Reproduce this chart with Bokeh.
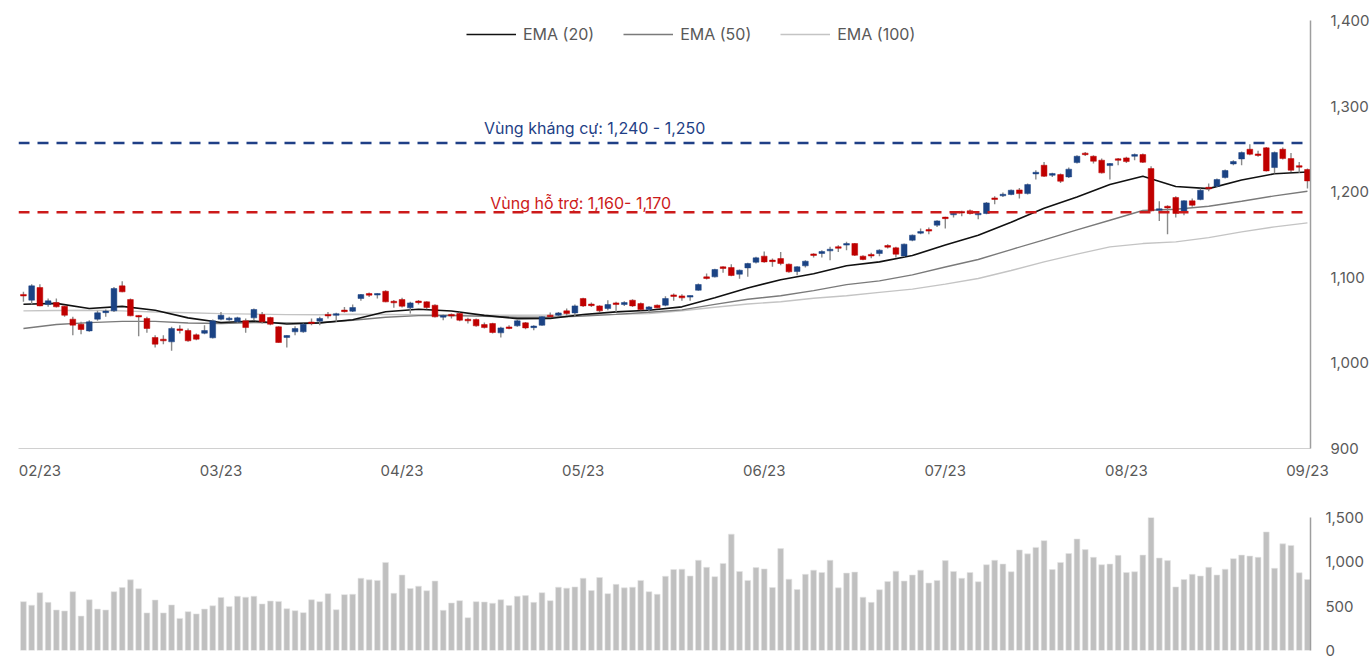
from bokeh.plotting import figure
from bokeh.models import (ColumnDataSource, Range1d, FixedTicker, NumeralTickFormatter,
                          Span, Label, Legend, LegendItem)
from bokeh.layouts import column
from bokeh.embed import file_html
from bokeh.resources import INLINE

FONT = "Inter"
FS = "16px"
AX_FS = "15px"
TXT = "#595959"
BLUE = "#1b4384"
RED = "#c00000"

# ---------------- data ----------------
opens = [1079.5, 1073.3, 1088.1, 1068.2, 1070.5, 1066.3, 1051.1, 1045.2, 1037.4, 1051.1,
         1059.2, 1060.8, 1090.0, 1074.0, 1055.0, 1051.9, 1029.7, 1027.7, 1024.6, 1039.4,
         1037.8, 1032.8, 1034.7, 1029.3, 1051.1, 1050.7, 1048.0, 1049.1, 1052.6, 1056.5,
         1053.0, 1042.1, 1029.7, 1036.3, 1036.3, 1047.2, 1048.7, 1056.1, 1056.1, 1061.2,
         1060.4, 1075.2, 1081.0, 1079.8, 1083.7, 1071.7, 1074.0, 1064.3, 1072.1, 1071.3,
         1067.4, 1053.8, 1056.1, 1057.7, 1050.6, 1050.6, 1044.8, 1046.0, 1035.1, 1041.7,
         1043.3, 1046.8, 1041.7, 1044.0, 1055.7, 1055.7, 1060.8, 1058.4, 1075.2, 1068.6,
         1066.6, 1063.5, 1070.1, 1068.2, 1073.2, 1069.3, 1062.3, 1067.4, 1067.4, 1079.1,
         1078.3, 1077.2, 1084.9, 1100.5, 1100.5, 1112.2, 1111.4, 1103.6, 1111.0, 1117.6,
         1124.7, 1119.6, 1121.9, 1115.3, 1106.8, 1113.4, 1127.0, 1127.8, 1130.9, 1135.2,
         1137.9, 1139.5, 1124.7, 1126.2, 1127.8, 1137.1, 1134.4, 1125.0, 1143.3, 1151.9,
         1155.4, 1160.9, 1169.8, 1173.3, 1176.4, 1177.6, 1173.3, 1174.5, 1192.4, 1195.5,
         1196.7, 1202.1, 1197.8, 1220.8, 1230.9, 1219.2, 1220.0, 1217.3, 1234.0, 1244.9,
         1241.4, 1236.8, 1230.5, 1237.9, 1239.5, 1241.4, 1243.4, 1227.0, 1178.4, 1183.0,
         1193.2, 1176.8, 1189.3, 1190.8, 1204.8, 1206.4, 1216.5, 1232.5, 1238.3, 1249.6,
         1243.8, 1251.2, 1228.2, 1249.6, 1238.7, 1230.1, 1225.9]
highs = [1083.0, 1092.0, 1092.0, 1075.2, 1075.2, 1067.0, 1053.8, 1048.0, 1049.9, 1060.8,
         1062.4, 1088.8, 1095.5, 1075.2, 1055.7, 1053.8, 1032.4, 1032.4, 1042.1, 1044.1,
         1040.2, 1034.3, 1044.1, 1050.7, 1059.6, 1053.8, 1053.8, 1051.9, 1063.5, 1059.6,
         1053.8, 1042.9, 1032.4, 1042.9, 1046.0, 1051.9, 1053.8, 1059.6, 1058.5, 1065.4,
         1068.2, 1080.6, 1082.2, 1081.4, 1084.9, 1073.6, 1076.0, 1071.3, 1073.6, 1072.1,
         1068.6, 1056.5, 1057.7, 1058.8, 1052.6, 1051.8, 1047.1, 1046.8, 1042.1, 1044.0,
         1050.6, 1047.9, 1044.0, 1054.9, 1058.8, 1059.6, 1063.5, 1068.2, 1076.0, 1070.5,
         1067.4, 1073.2, 1071.3, 1072.1, 1074.4, 1070.5, 1066.6, 1068.2, 1078.0, 1081.1,
         1080.3, 1078.7, 1092.7, 1104.4, 1109.9, 1113.0, 1115.3, 1109.1, 1116.9, 1123.9,
         1130.1, 1121.9, 1129.7, 1116.1, 1113.0, 1120.0, 1128.2, 1131.7, 1135.6, 1137.5,
         1141.4, 1140.2, 1125.8, 1128.6, 1132.8, 1138.7, 1135.6, 1139.5, 1149.9, 1157.0,
         1158.1, 1166.7, 1170.6, 1175.3, 1177.6, 1179.2, 1175.3, 1188.1, 1194.7, 1199.0,
         1202.5, 1204.4, 1209.5, 1225.1, 1234.8, 1222.0, 1221.2, 1228.2, 1242.6, 1246.5,
         1242.6, 1238.7, 1233.6, 1239.5, 1240.7, 1244.5, 1244.5, 1229.8, 1188.9, 1184.2,
         1194.7, 1190.0, 1192.0, 1203.7, 1209.5, 1215.4, 1225.9, 1236.8, 1246.9, 1255.4,
         1247.7, 1252.3, 1246.9, 1251.6, 1245.3, 1234.8, 1227.0]
lows = [1071.3, 1068.6, 1066.3, 1065.5, 1064.7, 1053.8, 1032.4, 1033.6, 1036.3, 1049.1,
        1053.8, 1059.6, 1082.6, 1054.6, 1031.2, 1035.1, 1018.0, 1021.9, 1014.1, 1034.3,
        1024.6, 1026.5, 1033.6, 1028.5, 1049.9, 1049.1, 1046.8, 1035.1, 1049.9, 1046.0,
        1044.1, 1023.4, 1018.0, 1032.4, 1035.1, 1044.1, 1044.1, 1051.9, 1048.0, 1058.8,
        1059.6, 1072.5, 1077.1, 1075.2, 1070.9, 1064.3, 1064.7, 1057.7, 1068.2, 1062.7,
        1053.0, 1049.9, 1051.8, 1048.7, 1046.0, 1042.1, 1040.1, 1034.3, 1029.6, 1039.4,
        1042.1, 1039.4, 1038.2, 1043.3, 1053.0, 1054.9, 1054.9, 1054.5, 1065.4, 1065.4,
        1059.6, 1061.5, 1059.6, 1066.6, 1065.4, 1061.5, 1058.8, 1063.5, 1066.3, 1072.5,
        1072.5, 1072.5, 1084.2, 1097.4, 1099.8, 1105.2, 1101.3, 1098.2, 1100.5, 1116.1,
        1116.9, 1112.2, 1114.1, 1105.2, 1102.5, 1111.4, 1123.1, 1123.1, 1120.0, 1129.7,
        1131.7, 1125.0, 1120.0, 1122.3, 1124.7, 1133.6, 1123.1, 1123.9, 1142.2, 1150.4,
        1150.4, 1158.9, 1157.0, 1169.8, 1171.4, 1173.3, 1167.9, 1173.7, 1185.4, 1193.9,
        1195.9, 1192.0, 1196.7, 1214.2, 1217.3, 1217.3, 1210.3, 1216.1, 1232.9, 1241.8,
        1232.9, 1221.2, 1214.2, 1230.9, 1233.6, 1236.8, 1233.6, 1176.8, 1165.9, 1150.3,
        1169.8, 1172.5, 1182.3, 1190.0, 1200.6, 1205.6, 1215.4, 1230.9, 1230.9, 1242.6,
        1240.7, 1223.5, 1221.2, 1237.5, 1223.1, 1222.0, 1203.7]
closes = [1078.7, 1090.0, 1066.6, 1072.5, 1065.5, 1055.7, 1044.1, 1039.0, 1048.0, 1058.5,
          1060.0, 1086.9, 1083.0, 1055.0, 1054.2, 1040.2, 1021.9, 1025.8, 1040.2, 1038.2,
          1025.8, 1027.7, 1037.8, 1049.1, 1055.7, 1051.9, 1052.6, 1041.3, 1062.4, 1048.0,
          1045.2, 1023.8, 1032.0, 1040.2, 1045.2, 1046.4, 1051.9, 1055.4, 1056.9, 1060.4,
          1064.7, 1079.8, 1079.1, 1080.6, 1071.3, 1070.5, 1066.2, 1070.1, 1070.5, 1064.7,
          1053.8, 1054.9, 1055.3, 1049.9, 1049.5, 1043.3, 1041.3, 1035.5, 1040.9, 1040.5,
          1049.1, 1040.9, 1042.5, 1053.8, 1054.1, 1058.4, 1057.7, 1066.6, 1066.6, 1067.0,
          1060.8, 1068.2, 1068.2, 1070.5, 1066.6, 1062.3, 1065.4, 1064.3, 1075.2, 1078.0,
          1076.0, 1078.3, 1091.6, 1098.6, 1109.1, 1110.3, 1102.1, 1108.3, 1116.1, 1122.7,
          1118.0, 1118.8, 1116.1, 1106.4, 1112.2, 1118.8, 1125.8, 1130.1, 1132.8, 1134.4,
          1139.1, 1125.8, 1120.8, 1125.4, 1131.7, 1135.2, 1127.0, 1138.7, 1149.2, 1153.1,
          1154.3, 1165.9, 1169.0, 1174.5, 1175.7, 1174.5, 1174.5, 1186.9, 1191.2, 1196.7,
          1201.7, 1197.8, 1208.3, 1222.7, 1218.1, 1221.2, 1212.2, 1226.3, 1241.4, 1243.4,
          1235.6, 1222.0, 1232.9, 1237.2, 1235.2, 1243.4, 1234.4, 1177.6, 1179.9, 1181.1,
          1174.5, 1189.3, 1184.2, 1201.7, 1203.7, 1214.2, 1224.7, 1235.2, 1245.7, 1243.8,
          1242.6, 1224.3, 1245.7, 1238.7, 1225.1, 1229.0, 1212.6]
volumes = [551, 511, 652, 543, 457, 446, 663, 388, 572, 467,
           457, 663, 710, 797, 696, 424, 569, 424, 514, 362,
           438, 413, 467, 504, 598, 497, 612, 601, 612, 525,
           558, 554, 471, 449, 427, 572, 551, 641, 460, 630,
           634, 815, 797, 790, 993, 645, 851, 699, 725, 674,
           783, 453, 536, 562, 370, 551, 547, 533, 572, 507,
           612, 619, 543, 652, 562, 714, 703, 717, 815, 677,
           823, 641, 746, 707, 714, 790, 663, 634, 837, 913,
           917, 840, 1018, 938, 833, 982, 1312, 891, 790, 935,
           920, 710, 1149, 804, 688, 859, 906, 880, 1018, 707,
           873, 884, 601, 543, 685, 779, 895, 783, 851, 906,
           761, 790, 1014, 891, 815, 880, 775, 967, 1018, 975,
           888, 1134, 1090, 1163, 1239, 913, 993, 1094, 1257, 1138,
           1051, 967, 975, 1073, 880, 888, 1076, 1507, 1043, 1014,
           717, 801, 859, 840, 938, 851, 917, 1036, 1076, 1065,
           1051, 1337, 927, 1203, 1185, 877, 801]

# EMA values read every 4 sessions
ema_idx = list(range(0, 157, 4))
ema20 = [1068.6, 1069.5, 1063.5, 1066.0, 1061.6, 1052.6, 1047.2, 1049.0, 1045.5, 1046.8,
         1050.5, 1059.8, 1062.7, 1060.6, 1055.5, 1051.7, 1051.8, 1056.5, 1059.6, 1061.5,
         1065.5, 1076.0, 1087.6, 1097.2, 1104.2, 1113.5, 1118.0, 1125.4, 1137.8, 1149.2,
         1164.4, 1180.6, 1193.9, 1208.3, 1218.0, 1206.0, 1203.6, 1213.6, 1221.0, 1223.1]
ema50 = [1040.2, 1044.8, 1047.1, 1048.5, 1048.5, 1046.6, 1046.1, 1047.2, 1046.8, 1046.9,
         1049.8, 1053.3, 1055.2, 1055.3, 1054.3, 1053.4, 1053.4, 1054.8, 1056.7, 1059.2,
         1062.0, 1068.4, 1074.3, 1078.5, 1084.5, 1091.5, 1095.8, 1102.8, 1112.0, 1120.8,
         1132.4, 1143.7, 1155.4, 1166.7, 1178.0, 1179.5, 1183.0, 1188.9, 1195.1, 1200.6]
ema100 = [1060.8, 1061.2, 1061.5, 1060.8, 1059.4, 1058.5, 1057.6, 1057.0, 1056.4, 1056.2,
          1056.8, 1056.6, 1056.3, 1055.9, 1055.7, 1055.7, 1055.8, 1056.3, 1056.8, 1057.6,
          1061.0, 1065.0, 1068.8, 1071.5, 1075.6, 1078.5, 1082.4, 1086.2, 1092.0, 1098.6,
          1108.0, 1118.0, 1127.0, 1135.6, 1139.4, 1141.4, 1146.4, 1153.1, 1158.9, 1163.6]

month_ticks = [2, 24, 46, 68, 90, 112, 134, 156]
month_labels = ["02/23", "03/23", "04/23", "05/23", "06/23", "07/23", "08/23", "09/23"]

resistance = 1257.0
support = 1176.0

# ---------------- derived ----------------
n = len(opens)
idx = list(range(n))
MIN_BODY = 1.8
body_top, body_bot, colors = [], [], []
for o, c in zip(opens, closes):
    hi, lo = max(o, c), min(o, c)
    if hi - lo < MIN_BODY:
        m = (hi + lo) / 2
        hi, lo = m + MIN_BODY / 2, m - MIN_BODY / 2
    body_top.append(hi)
    body_bot.append(lo)
    colors.append(BLUE if c >= o else RED)

src = ColumnDataSource(dict(x=idx, o=opens, h=highs, l=lows, c=closes,
                            top=body_top, bot=body_bot, color=colors, vol=volumes))
esrc = ColumnDataSource(dict(x=ema_idx, e20=ema20, e50=ema50, e100=ema100))

x_range = Range1d(-0.6, 156.37)

# ---------------- price chart ----------------
p = figure(width=1372, height=487, x_range=x_range, y_range=Range1d(900, 1400),
           output_backend="svg", toolbar_location=None, y_axis_location="right",
           min_border_left=18, min_border_right=58, min_border_top=20, min_border_bottom=39)
p.outline_line_color = None
p.xgrid.grid_line_color = None
p.ygrid.grid_line_color = None

r100 = p.line("x", "e100", source=esrc, line_color="#c4c4c4", line_width=1.4)
r50 = p.line("x", "e50", source=esrc, line_color="#7a7a7a", line_width=1.4)
r20 = p.line("x", "e20", source=esrc, line_color="#111111", line_width=1.6)

p.add_layout(Span(location=resistance, dimension="width", line_color="#1f3f86",
                  line_width=2.5, line_dash="11 8"))
p.add_layout(Span(location=support, dimension="width", line_color="#cc1a1a",
                  line_width=2.5, line_dash="11 8"))

p.segment(x0="x", y0="l", x1="x", y1="h", source=src, line_color="#8a8a8a", line_width=1.4)
p.vbar(x="x", top="top", bottom="bot", width=0.7, source=src,
       fill_color="color", line_color="color", line_width=0.5)

p.add_layout(Label(x=69.4, y=resistance, y_offset=15, text="Vùng kháng cự: 1,240 - 1,250",
                   text_align="center", text_baseline="middle", text_color="#1f3f86",
                   text_font=FONT, text_font_size=FS))
p.add_layout(Label(x=67.7, y=support, y_offset=9, text="Vùng hỗ trợ: 1,160- 1,170",
                   text_align="center", text_baseline="middle", text_color="#cc1a1a",
                   text_font=FONT, text_font_size=FS))

legend = Legend(items=[LegendItem(label="EMA (20)", renderers=[r20]),
                       LegendItem(label="EMA (50)", renderers=[r50]),
                       LegendItem(label="EMA (100)", renderers=[r100])],
                orientation="horizontal", location=(448, 404),
                border_line_color=None, background_fill_alpha=0,
                glyph_width=50, glyph_height=20, label_height=20, label_standoff=7,
                spacing=29, padding=0, margin=0,
                label_text_font=FONT, label_text_font_size=FS, label_text_color=TXT)
p.add_layout(legend)

p.yaxis.ticker = FixedTicker(ticks=[900, 1000, 1100, 1200, 1300, 1400])
p.yaxis.formatter = NumeralTickFormatter(format="0,0")
p.yaxis.axis_line_color = "#9e9e9e"
p.yaxis.axis_line_width = 1.5
p.yaxis.major_tick_line_color = None
p.yaxis.minor_tick_line_color = None
p.yaxis.major_label_standoff = 14
p.yaxis.major_label_text_font = FONT
p.yaxis.major_label_text_font_size = AX_FS
p.yaxis.major_label_text_color = TXT

p.xaxis.ticker = FixedTicker(ticks=month_ticks)
p.xaxis.major_label_overrides = {t: lab for t, lab in zip(month_ticks, month_labels)}
p.xaxis.axis_line_color = "#d0d0d0"
p.xaxis.axis_line_width = 1
p.xaxis.major_tick_line_color = None
p.xaxis.minor_tick_line_color = None
p.xaxis.major_label_standoff = 6
p.xaxis.major_label_text_font = FONT
p.xaxis.major_label_text_font_size = AX_FS
p.xaxis.major_label_text_color = TXT

# ---------------- volume chart ----------------
p2 = figure(width=1372, height=173, x_range=x_range, y_range=Range1d(0, 1500),
            output_backend="svg", toolbar_location=None, y_axis_location="right",
            min_border_left=18, min_border_right=58, min_border_top=30, min_border_bottom=10)
p2.outline_line_color = None
p2.xgrid.grid_line_color = None
p2.ygrid.grid_line_color = None
p2.xaxis.visible = False

p2.vbar(x="x", top="vol", bottom=0, width=0.7, source=src,
        fill_color="#c0c0c0", line_color="#e4e4e4", line_width=0.6)

p2.yaxis.ticker = FixedTicker(ticks=[0, 500, 1000, 1500])
p2.yaxis.formatter = NumeralTickFormatter(format="0,0")
p2.yaxis.axis_line_color = "#9e9e9e"
p2.yaxis.axis_line_width = 1.5
p2.yaxis.major_tick_line_color = None
p2.yaxis.minor_tick_line_color = None
p2.yaxis.major_label_standoff = 9
p2.yaxis.major_label_text_font = FONT
p2.yaxis.major_label_text_font_size = AX_FS
p2.yaxis.major_label_text_color = TXT

p2.add_layout(Label(x=156.37, y=1500, x_offset=56, y_offset=22, text="[triệu CP]",
                    text_align="right", text_baseline="middle", text_color=TXT,
                    text_font=FONT, text_font_size=FS))

layout = column(p, p2)
open("out.html", "w").write(file_html(layout, INLINE))
